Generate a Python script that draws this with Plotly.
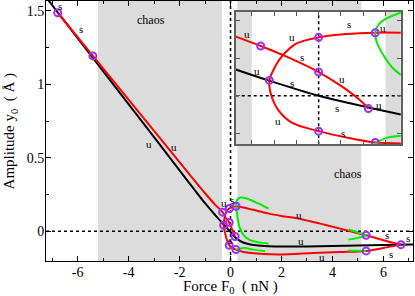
import plotly.graph_objects as go

# ---------------- main plot data ----------------
F_black = [-7.24, -5.0, -3.0, -1.0, -0.6, -0.27, 0.0, 0.2, 0.45, 0.7, 1.0, 1.5, 2.0, 3.0, 4.0, 5.0, 6.0, 7.16]
y_black = [1.594, 1.091, 0.641, 0.191, 0.11, 0.046, -0.005, -0.045, -0.073, -0.087, -0.096, -0.102, -0.104, -0.103, -0.100, -0.097, -0.094, -0.090]

F_red1 = [-6.78, -5.4, -3.0, -1.5, -0.99, -0.6, -0.31, -0.21, -0.05, 0.05, 0.18]
y_red1 = [1.488, 1.194, 0.683, 0.364, 0.257, 0.18, 0.13, 0.097, 0.06, 0.018, -0.036]

F_redC = [0.22, 0.08, -0.05, -0.18, -0.23, -0.27, -0.21, -0.14, -0.05, 0.05, 0.21]
y_redC = [0.17, 0.165, 0.155, 0.13, 0.097, 0.041, -0.016, -0.061, -0.095, -0.111, -0.125]

F_redU = [0.22, 0.51, 1.04, 1.5, 2.0, 2.73, 3.52, 4.3, 4.82, 5.32, 6.0, 6.69]
y_redU = [0.17, 0.162, 0.14, 0.12, 0.104, 0.084, 0.052, 0.018, -0.005, -0.027, -0.061, -0.091]

F_redL = [0.21, 0.51, 1.29, 2.0, 3.25, 4.3, 5.32, 6.0, 6.69]
y_redL = [-0.125, -0.141, -0.155, -0.158, -0.148, -0.141, -0.134, -0.114, -0.091]

green_sets = [
    ([0.22, 0.25, 0.38, 0.64, 1.04, 1.49], [0.17, 0.211, 0.23, 0.223, 0.193, 0.155]),
    ([0.22, 0.27, 0.35, 0.51, 0.77, 1.16, 1.49], [0.17, 0.097, 0.03, -0.027, -0.061, -0.077, -0.084]),
    ([0.21, 0.51, 0.9, 1.36], [-0.125, -0.114, -0.125, -0.136]),
    ([5.32, 5.0, 4.63], [-0.027, -0.008, 0.012]),
    ([5.32, 5.0, 4.63], [-0.027, -0.045, -0.057]),
    ([5.32, 4.95, 4.63], [-0.134, -0.133, -0.131]),
]

F_pts = [-6.78, -5.40, -0.31, -0.05, 0.22, -0.27, -0.05, 0.18, -0.05, 0.21, 5.32, 6.69, 5.32]
y_pts = [1.488, 1.194, 0.13, 0.155, 0.17, 0.041, 0.06, -0.036, -0.095, -0.125, -0.027, -0.091, -0.134]

chaos_regions = [(-5.2, -0.34), (0.27, 5.13)]

main_labels = [
    (-6.68, 1.535, "s"), (-5.85, 1.375, "s"), (-3.18, 0.593, "u"), (-2.21, 0.575, "u"),
    (-0.25, 0.193, "u"), (0.05, 0.212, "s"), (-0.02, -0.062, "s"),
    (2.67, 0.112, "u"), (2.78, -0.064, "u"), (3.58, -0.175, "u"),
    (6.13, -0.027, "s"), (6.98, -0.045, "s"), (6.29, -0.152, "s"),
]
chaos_labels = [(-3.12, 1.438, "chaos"), (4.59, 0.389, "chaos")]

x_ticks = [-6, -4, -2, 0, 2, 4, 6]
x_ticktext = ["-6", "-4", "-2", "0", "2", "4", "6"]
x_minor = [-7, -5, -3, -1, 1, 3, 5, 7]
y_ticks = [0, 0.5, 1, 1.5]
y_ticktext = ["0", "0.5", "1", "1.5"]
y_minor = [0.25, 0.75, 1.25]
x_title = "Force F<sub>0</sub>  ( nN )"
y_title = "Amplitude y<sub>0</sub>  ( Å )"

# ---------------- inset data (inset units) ----------------
ix_black = [-3.72, -2.26, 0.0, 2.23, 3.69]
iy_black = [0.70, 0.41, 0.0, -0.31, -0.50]

ix_red1 = [-3.72, -2.60, -1.44, 0.0, 1.105, 1.85, 2.23]
iy_red1 = [1.574, 1.325, 1.041, 0.632, 0.223, -0.115, -0.337]

ix_redC = [3.69, 2.54, 1.254, 0.0, -0.988, -1.66, -2.03, -2.21, -2.15, -1.81, -1.14, 0.0, 1.254, 2.54, 3.69]
iy_redC = [1.68, 1.68, 1.645, 1.556, 1.396, 1.041, 0.685, 0.41, 0.063, -0.381, -0.737, -0.941, -1.11, -1.244, -1.27]

ix_green1 = [3.69, 3.05, 2.67, 2.54, 2.60, 2.90, 3.27, 3.69]
iy_green1 = [2.21, 2.06, 1.885, 1.68, 1.44, 1.085, 0.774, 0.552]
ix_green2 = [2.54, 3.05, 3.69]
iy_green2 = [-1.244, -1.12, -1.066]

ix_pts = [-2.60, 0.0, 2.54, -2.21, 0.0, 2.23, 0.0, 2.54]
iy_pts = [1.325, 1.556, 1.68, 0.41, 0.632, -0.337, -0.941, -1.244]

inset_labels = [
    (-3.23, 1.645, "u"), (-1.21, 1.556, "u"), (1.37, 1.91, "s"), (2.87, 1.80, "u"),
    (-0.73, 1.04, "s"), (-2.78, 0.66, "u"), (-1.18, 0.33, "s"), (1.045, 0.437, "u"),
    (0.835, -0.32, "s"), (2.72, -0.248, "u"), (-1.81, -0.666, "u"), (1.075, -0.985, "s"),
]
ix_range = [-3.72, 3.69]
iy_range = [-1.29, 2.24]
inset_chaos = [(-3.72, -3.0), (3.0, 3.69)]

SERIF = "Liberation Serif"
RED = "#ff0000"
GREEN = "#00ee00"
PURPLE = "#9a30ff"

fig = go.Figure()

def line(x, y, color, xa="x", ya="y"):
    fig.add_trace(go.Scatter(x=x, y=y, mode="lines", xaxis=xa, yaxis=ya,
                             line=dict(color=color, width=2, shape="spline", smoothing=0.8),
                             hoverinfo="skip", showlegend=False))

# main curves
line(F_black, y_black, "black")
line(F_red1, y_red1, RED)
line(F_redC, y_redC, RED)
line(F_redU, y_redU, RED)
line(F_redL, y_redL, RED)
for gx, gy in green_sets:
    line(gx, gy, GREEN)
fig.add_trace(go.Scatter(x=F_pts, y=y_pts, mode="markers", showlegend=False,
                         marker=dict(symbol="circle-open", size=7, color=PURPLE, line=dict(width=2, color=PURPLE))))

# inset curves
line(ix_black, iy_black, "black", "x2", "y2")
line(ix_red1, iy_red1, RED, "x2", "y2")
line(ix_redC, iy_redC, RED, "x2", "y2")
line(ix_green1, iy_green1, GREEN, "x2", "y2")
line(ix_green2, iy_green2, GREEN, "x2", "y2")
fig.add_trace(go.Scatter(x=ix_pts, y=iy_pts, mode="markers", xaxis="x2", yaxis="y2", showlegend=False,
                         marker=dict(symbol="circle-open", size=7, color=PURPLE, line=dict(width=2, color=PURPLE))))

shapes = []
for a, b in chaos_regions:
    shapes.append(dict(type="rect", xref="x", yref="paper", x0=a, x1=b, y0=0, y1=1,
                       fillcolor="#dcdcdc", line=dict(width=0), layer="below"))
shapes.append(dict(type="line", xref="x", yref="paper", x0=0, x1=0, y0=0, y1=1,
                   line=dict(color="black", width=1.5, dash="dot"), layer="below"))
shapes.append(dict(type="line", xref="paper", yref="y", x0=0, x1=1, y0=0, y1=0,
                   line=dict(color="black", width=1.5, dash="dot"), layer="below"))
# inset background and decorations
shapes.append(dict(type="rect", xref="x2", yref="y2", x0=ix_range[0], x1=ix_range[1], y0=iy_range[0], y1=iy_range[1],
                   fillcolor="white", line=dict(width=0), layer="below"))
for a, b in inset_chaos:
    shapes.append(dict(type="rect", xref="x2", yref="y2", x0=a, x1=b, y0=iy_range[0], y1=iy_range[1],
                       fillcolor="#dcdcdc", line=dict(width=0), layer="below"))
shapes.append(dict(type="line", xref="x2", yref="y2", x0=0, x1=0, y0=iy_range[0], y1=iy_range[1],
                   line=dict(color="black", width=1.5, dash="dot"), layer="below"))
shapes.append(dict(type="line", xref="x2", yref="y2", x0=ix_range[0], x1=ix_range[1], y0=0, y1=0,
                   line=dict(color="black", width=1.5, dash="dot"), layer="below"))

annotations = []
for x, y, t in main_labels:
    annotations.append(dict(x=x, y=y, xref="x", yref="y", text=t, showarrow=False,
                            font=dict(family=SERIF, size=11, color="black")))
for x, y, t in chaos_labels:
    annotations.append(dict(x=x, y=y, xref="x", yref="y", text=t, showarrow=False,
                            font=dict(family=SERIF, size=12, color="black")))
for x, y, t in inset_labels:
    annotations.append(dict(x=x, y=y, xref="x2", yref="y2", text=t, showarrow=False,
                            font=dict(family=SERIF, size=11, color="black")))
annotations.append(dict(x=0.502, y=-0.1, xref="paper", yref="paper", text=x_title, showarrow=False,
                        xanchor="center", yanchor="middle", font=dict(family=SERIF, size=15, color="black")))
annotations.append(dict(x=-0.097, y=0.5, xref="paper", yref="paper", text=y_title, showarrow=False,
                        textangle=-90, xanchor="center", yanchor="middle",
                        font=dict(family=SERIF, size=15, color="black")))

axfont = dict(family=SERIF, size=14, color="black")
fig.update_layout(
    width=415, height=296,
    margin=dict(l=46, r=2, t=1, b=35),
    plot_bgcolor="white", paper_bgcolor="white",
    shapes=shapes, annotations=annotations,
    xaxis=dict(range=[-7.24, 7.16], tickvals=x_ticks, ticktext=x_ticktext, ticks="inside", ticklen=5,
               tickcolor="black", showline=True, linecolor="black", linewidth=1, mirror="allticks",
               showgrid=False, zeroline=False, tickfont=axfont, ticklabelstandoff=-2,
               minor=dict(tickvals=x_minor, ticks="inside", ticklen=3, tickcolor="black", showgrid=False)),
    yaxis=dict(range=[-0.2025, 1.568], tickvals=y_ticks, ticktext=y_ticktext, ticks="inside", ticklen=5,
               tickcolor="black", showline=True, linecolor="black", linewidth=1, mirror="allticks",
               showgrid=False, zeroline=False, tickfont=axfont, ticklabelstandoff=-2,
               minor=dict(tickvals=y_minor, ticks="inside", ticklen=3, tickcolor="black", showgrid=False)),
    xaxis2=dict(domain=[0.517, 0.967], anchor="y2", range=ix_range, dtick=1, tick0=0, ticks="inside",
                ticklen=4, tickcolor="#555555", showticklabels=False, showline=True, linecolor="#606060",
                linewidth=2, mirror="allticks", showgrid=False, zeroline=False),
    yaxis2=dict(domain=[0.449, 0.959], anchor="x2", range=iy_range, dtick=1, tick0=0, ticks="inside",
                ticklen=4, tickcolor="#555555", showticklabels=False, showline=True, linecolor="#606060",
                linewidth=2, mirror="allticks", showgrid=False, zeroline=False),
)

fig.write_html("out.html", config={"displayModeBar": False},
               post_script="document.body.style.margin='0';document.body.style.overflow='hidden';")
